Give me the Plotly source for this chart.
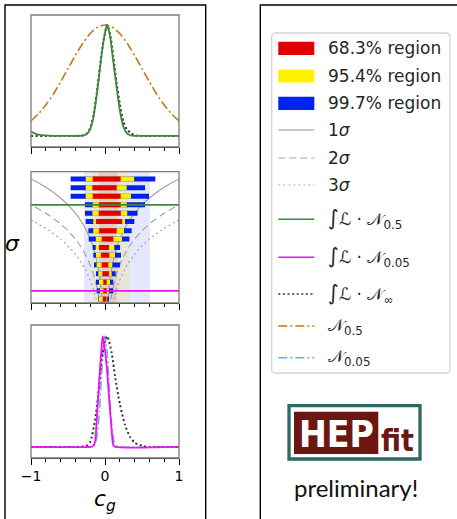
import plotly.graph_objects as go

W, H = 457, 519


def px(x):
    return x / W


def py(y):
    return 1 - y / H


# ---------------- data ----------------
# top panel: posterior of c_g with the N(0, 0.5) prior
orange_x = [-1.0, -0.9, -0.8, -0.7, -0.6, -0.5, -0.4, -0.3, -0.2, -0.1, 0.0,
            0.1, 0.2, 0.3, 0.4, 0.5, 0.6, 0.7, 0.8, 0.9, 1.0]
orange_y = [0.135, 0.198, 0.278, 0.375, 0.487, 0.607, 0.726, 0.835, 0.923, 0.980, 1.0,
            0.980, 0.923, 0.835, 0.726, 0.607, 0.487, 0.375, 0.278, 0.198, 0.135]

green_x = [-1.0, -0.95, -0.9, -0.8, -0.7, -0.5, -0.3, -0.25, -0.2, -0.158, -0.113,
           -0.068, -0.023, 0.014, 0.031, 0.068, 0.112, 0.158, 0.203, 0.248, 0.293,
           0.34, 0.4, 0.6, 1.0]
green_y = [0.04, 0.022, 0.012, 0.004, 0.0, 0.0, 0.003, 0.015, 0.06, 0.16, 0.36,
           0.61, 0.84, 0.97, 1.0, 0.9, 0.67, 0.43, 0.22, 0.085, 0.025,
           0.006, 0.0, 0.0, 0.0]

ninf_top_x = [-1.0, -0.4, -0.3, -0.25, -0.2, -0.158, -0.113, -0.068, -0.023, 0.014,
              0.031, 0.068, 0.112, 0.158, 0.203, 0.248, 0.293, 0.36, 0.43, 0.5, 1.0]
ninf_top_y = [0.0, 0.0, 0.005, 0.02, 0.07, 0.18, 0.38, 0.63, 0.85, 0.97,
              1.0, 0.92, 0.72, 0.47, 0.28, 0.13, 0.06, 0.02, 0.003, 0.0, 0.0]

# bottom panel: posterior of c_g with the N(0, 0.05) prior
magenta_x = [-1.0, -0.2, -0.166, -0.135, -0.104, -0.068, -0.045, -0.031, -0.014,
             0.023, 0.054, 0.086, 0.112, 0.14, 1.0]
magenta_y = [0.0, 0.0, 0.005, 0.045, 0.33, 0.7, 0.91, 1.0, 0.94,
             0.73, 0.45, 0.18, 0.015, 0.0, 0.0]

lblue_x = [-1.0, -0.2, -0.15, -0.125, -0.1, -0.075, -0.05, -0.025, 0.0,
           0.025, 0.05, 0.075, 0.1, 0.125, 0.15, 0.2, 1.0]
lblue_y = [0.0, 0.0, 0.011, 0.044, 0.135, 0.325, 0.607, 0.882, 1.0,
           0.882, 0.607, 0.325, 0.135, 0.044, 0.011, 0.0, 0.0]

ninf_bot_x = [-1.0, -0.4, -0.3, -0.257, -0.2, -0.135, -0.09, -0.045, 0.0, 0.031,
              0.09, 0.135, 0.2, 0.27, 0.338, 0.405, 0.52, 0.6, 1.0]
ninf_bot_y = [0.0, 0.0, 0.003, 0.01, 0.045, 0.24, 0.48, 0.79, 0.95, 1.0,
              0.85, 0.64, 0.39, 0.2, 0.09, 0.036, 0.006, 0.0, 0.0]

# middle panel: credible intervals as a function of the prior width sigma
sigma_rows = [1.0, 0.79, 0.63, 0.5, 0.4, 0.32, 0.25, 0.2, 0.16, 0.13, 0.1,
              0.079, 0.063, 0.05, 0.04]
blue_lo = [-0.464, -0.464, -0.464, -0.27, -0.27, -0.261, -0.225, -0.22, -0.166,
           -0.158, -0.149, -0.122, -0.122, -0.113, -0.09]
yellow_lo = [-0.261, -0.261, -0.261, -0.166, -0.17, -0.158, -0.158, -0.124, -0.126,
             -0.122, -0.113, -0.09, -0.081, -0.068, -0.081]
red_lo = [-0.166, -0.171, -0.166, -0.081, -0.085, -0.122, -0.081, -0.045, -0.081,
          -0.054, -0.045, -0.036, -0.023, -0.023, -0.03]
red_hi = [0.212, 0.158, 0.212, 0.212, 0.214, 0.234, 0.158, 0.112, 0.054,
          0.058, 0.045, 0.054, 0.023, 0.023, 0.02]
yellow_hi = [0.394, 0.293, 0.351, 0.293, 0.30, 0.27, 0.257, 0.23, 0.126,
             0.135, 0.099, 0.09, 0.068, 0.054, 0.03]
blue_hi = [0.68, 0.541, 0.595, 0.541, 0.44, 0.396, 0.36, 0.33, 0.203,
           0.216, 0.203, 0.144, 0.112, 0.112, 0.054]

# intervals of the prior-free posterior, drawn as faint vertical bands
band_blue = [-0.284, 0.608]
band_yellow = [-0.18, 0.338]
band_red = [-0.081, 0.166]

# n-sigma prior contours
contour_sigma = [1.25, 1.0, 0.8, 0.63, 0.5, 0.4, 0.32, 0.25, 0.2, 0.16, 0.13,
                 0.1, 0.08, 0.063, 0.05, 0.04, 0.035]
contour_1s = [1.25, 1.0, 0.8, 0.63, 0.5, 0.4, 0.32, 0.25, 0.2, 0.16, 0.13,
              0.1, 0.08, 0.063, 0.05, 0.04, 0.035]
contour_2s = [2.5, 2.0, 1.6, 1.26, 1.0, 0.8, 0.64, 0.5, 0.4, 0.32, 0.26,
              0.2, 0.16, 0.126, 0.1, 0.08, 0.07]
contour_3s = [3.75, 3.0, 2.4, 1.89, 1.5, 1.2, 0.96, 0.75, 0.6, 0.48, 0.39,
              0.3, 0.24, 0.189, 0.15, 0.12, 0.105]

prior_lines = [0.5, 0.05]

tick_vals = [-1, 0, 1]
tick_text = ["\u22121", "0", "1"]

legend_labels = [
    "68.3% region", "95.4% region", "99.7% region",
    "1<i>σ</i>", "2<i>σ</i>", "3<i>σ</i>",
    "<span style='font-size:21px'>∫</span><i>ℒ</i> · 𝒩<sub>0.5</sub>",
    "<span style='font-size:21px'>∫</span><i>ℒ</i> · 𝒩<sub>0.05</sub>",
    "<span style='font-size:21px'>∫</span><i>ℒ</i> · 𝒩<sub>∞</sub>",
    "𝒩<sub>0.5</sub>",
    "𝒩<sub>0.05</sub>",
]

# ---------------- styles ----------------
RED = "#e00000"
YELLOW = "#fff000"
BLUE = "#0022ee"
GREEN = "#3a8a3a"
MAGENTA = "#ee11ee"
ORANGE = "#c47a14"
LBLUE = "#74a6f4"
GRAY = "#9c9c9c"
DOTTED_BLACK = "#333333"

fig = go.Figure()

XDOM = [px(31), px(179)]
Y1DOM = [py(147), py(15)]
Y2DOM = [py(303), py(171.7)]
Y3DOM = [py(458), py(325)]


def line(x, y, color, width, dash="solid", xa="x", ya="y", spline=True):
    fig.add_trace(go.Scatter(
        x=x, y=y, mode="lines", xaxis=xa, yaxis=ya, showlegend=False,
        hoverinfo="skip",
        line=dict(color=color, width=width, dash=dash,
                  shape="spline" if spline else "linear", smoothing=0.6),
    ))


# top panel
line(orange_x, orange_y, ORANGE, 1.6, "9px,3px,2px,3px", "x", "y")
line(ninf_top_x, ninf_top_y, DOTTED_BLACK, 2.0, "2px,2.6px", "x", "y")
line(green_x, green_y, GREEN, 1.8, "solid", "x", "y")

# middle panel: contours
for xs, dash in [(contour_1s, "solid"), (contour_2s, "7px,4px"), (contour_3s, "2px,3px")]:
    line(xs, contour_sigma, GRAY, 1.1, dash, "x2", "y2")
    line([-v for v in xs], contour_sigma, GRAY, 1.1, dash, "x2", "y2")


def bars(lo, hi, color):
    xs, ys = [], []
    for a, b, s in zip(lo, hi, sigma_rows):
        xs += [a, b, None]
        ys += [s, s, None]
    fig.add_trace(go.Scatter(
        x=xs, y=ys, mode="lines", xaxis="x2", yaxis="y2", showlegend=False,
        hoverinfo="skip", line=dict(color=color, width=5),
    ))


bars(blue_lo, blue_hi, BLUE)
bars(yellow_lo, yellow_hi, YELLOW)
bars(red_lo, red_hi, RED)

line([-1, 1], [prior_lines[0]] * 2, GREEN, 1.8, "solid", "x2", "y2", spline=False)
line([-1, 1], [prior_lines[1]] * 2, MAGENTA, 1.8, "solid", "x2", "y2", spline=False)

# bottom panel
line(lblue_x, lblue_y, LBLUE, 1.6, "9px,3px,2px,3px", "x3", "y3")
line(ninf_bot_x, ninf_bot_y, DOTTED_BLACK, 2.0, "2px,2.6px", "x3", "y3")
line(magenta_x, magenta_y, MAGENTA, 1.8, "solid", "x3", "y3")

shapes = []
annotations = []

# faint interval bands behind the middle panel
for (a, b), col in [(band_blue, "rgba(0,34,238,0.10)"),
                    (band_yellow, "rgba(255,220,0,0.13)"),
                    (band_red, "rgba(224,0,0,0.10)")]:
    shapes.append(dict(type="rect", xref="x2", yref="y2 domain", x0=a, x1=b,
                       y0=0, y1=1, fillcolor=col, line=dict(width=0), layer="below"))

# gray frames of the three panels
for xr, yr in [("x", "y"), ("x2", "y2"), ("x3", "y3")]:
    shapes.append(dict(type="rect", xref=xr + " domain", yref=yr + " domain",
                       x0=0, x1=1, y0=0, y1=1, line=dict(color="#7a7a7a", width=1.3),
                       layer="above"))

# outer boxes
shapes.append(dict(type="rect", xref="paper", yref="paper", x0=px(5), x1=px(205.7),
                   y0=-0.1, y1=py(5), line=dict(color="black", width=1.4)))
shapes.append(dict(type="rect", xref="paper", yref="paper", x0=px(260.3), x1=1.1,
                   y0=-0.1, y1=py(5), line=dict(color="black", width=1.4)))

# legend frame with rounded corners
lx0, lx1, ly0, ly1, r = 271.7, 450, 33, 373, 4


def P(x, y):
    return f"{px(x):.5f},{py(y):.5f}"


path = (f"M {P(lx0 + r, ly0)} L {P(lx1 - r, ly0)} Q {P(lx1, ly0)} {P(lx1, ly0 + r)} "
        f"L {P(lx1, ly1 - r)} Q {P(lx1, ly1)} {P(lx1 - r, ly1)} "
        f"L {P(lx0 + r, ly1)} Q {P(lx0, ly1)} {P(lx0, ly1 - r)} "
        f"L {P(lx0, ly0 + r)} Q {P(lx0, ly0)} {P(lx0 + r, ly0)} Z")
shapes.append(dict(type="path", xref="paper", yref="paper", path=path,
                   line=dict(color="#d4d4d4", width=1.3), fillcolor="white"))

legend_y = [48.3, 76, 103.3, 130, 158, 185, 219.3, 257.3, 294, 326, 357.7]
handles = [
    ("patch", RED), ("patch", YELLOW), ("patch", BLUE),
    ("line", "#b9b9b9", "solid"), ("line", "#c4c4c4", "7px,4px"),
    ("line", "#c8c8c8", "2px,3px"),
    ("line", GREEN, "solid"), ("line", MAGENTA, "solid"),
    ("line", DOTTED_BLACK, "2px,2.6px"),
    ("line", ORANGE, "9px,3px,2px,3px"), ("line", LBLUE, "9px,3px,2px,3px"),
]
for yc, h, lab in zip(legend_y, handles, legend_labels):
    if h[0] == "patch":
        shapes.append(dict(type="rect", xref="paper", yref="paper",
                           x0=px(278.3), x1=px(314.3), y0=py(yc + 6.6), y1=py(yc - 6.6),
                           fillcolor=h[1], line=dict(width=0)))
    else:
        shapes.append(dict(type="line", xref="paper", yref="paper",
                           x0=px(278.3), x1=px(314.3), y0=py(yc), y1=py(yc),
                           line=dict(color=h[1], width=1.6, dash=h[2])))
    annotations.append(dict(xref="paper", yref="paper", x=px(326), y=py(yc),
                            xanchor="left", yanchor="middle", text=lab, showarrow=False,
                            font=dict(size=17, color="#262626", family="DejaVu Sans")))

# HEPfit logo
LOGO_FONT = "Liberation Sans Narrow, DejaVu Sans Condensed, Liberation Sans"
shapes.append(dict(type="rect", xref="paper", yref="paper", x0=px(289), x1=px(420),
                   y0=py(459), y1=py(405.7), fillcolor="white",
                   line=dict(color="#2d6a65", width=3.3)))
shapes.append(dict(type="rect", xref="paper", yref="paper", x0=px(294), x1=px(378.3),
                   y0=py(454), y1=py(411.7), fillcolor="#6b1812", line=dict(width=0)))
annotations.append(dict(xref="paper", yref="paper", x=px(336.5), y=py(434),
                        xanchor="center", yanchor="middle", text="<b>HEP</b>",
                        showarrow=False,
                        font=dict(size=37, color="white", family=LOGO_FONT)))
annotations.append(dict(xref="paper", yref="paper", x=px(397), y=py(440),
                        xanchor="center", yanchor="middle", text="<b>fit</b>",
                        showarrow=False,
                        font=dict(size=30, color="#6b1812", family=LOGO_FONT)))
annotations.append(dict(xref="paper", yref="paper", x=px(356), y=py(487),
                        xanchor="center", yanchor="middle", text="preliminary!",
                        showarrow=False, font=dict(size=24, color="#111111", family="Lato")))

# axis labels
annotations.append(dict(xref="paper", yref="paper", x=px(12.5), y=py(243),
                        xanchor="center", yanchor="middle", text="<i>σ</i>",
                        showarrow=False, font=dict(size=22, color="black")))
annotations.append(dict(xref="paper", yref="paper", x=px(105), y=py(500),
                        xanchor="center", yanchor="middle", text="<i>c</i><sub><i>g</i></sub>",
                        showarrow=False, font=dict(size=22, color="black")))


def xaxis_cfg(anchor, labels):
    return dict(
        domain=XDOM, anchor=anchor, range=[-1, 1], showgrid=False, zeroline=False,
        automargin=False,
        showline=True, linecolor="black", linewidth=1.3,
        tickvals=tick_vals, ticktext=tick_text, ticks="outside", ticklen=5.5,
        tickwidth=1.2, tickcolor="black", showticklabels=labels,
        tickfont=dict(size=14, color="black"),
        minor=dict(dtick=0.2, tick0=0, ticks="outside", ticklen=3, tickwidth=1,
                   tickcolor="black", showgrid=False),
    )


def yaxis_cfg(anchor, dom, rng, log=False):
    d = dict(domain=dom, anchor=anchor, range=rng, showgrid=False, zeroline=False,
             automargin=False, showline=False, ticks="", showticklabels=False)
    if log:
        d["type"] = "log"
    return d


fig.update_layout(
    width=W, height=H, margin=dict(l=0, r=0, t=0, b=0, pad=0),
    paper_bgcolor="white", plot_bgcolor="rgba(0,0,0,0)",
    font=dict(family="DejaVu Sans", color="black"),
    showlegend=False,
    xaxis=xaxis_cfg("y", False),
    yaxis=yaxis_cfg("x", Y1DOM, [-0.1, 1.09]),
    xaxis2=xaxis_cfg("y2", False),
    yaxis2=yaxis_cfg("x2", Y2DOM, [-1.443, 0.085], log=True),
    xaxis3=xaxis_cfg("y3", True),
    yaxis3=yaxis_cfg("x3", Y3DOM, [-0.1, 1.1]),
    shapes=shapes,
    annotations=annotations,
)

fig.write_html("out.html", config={"displayModeBar": False})
